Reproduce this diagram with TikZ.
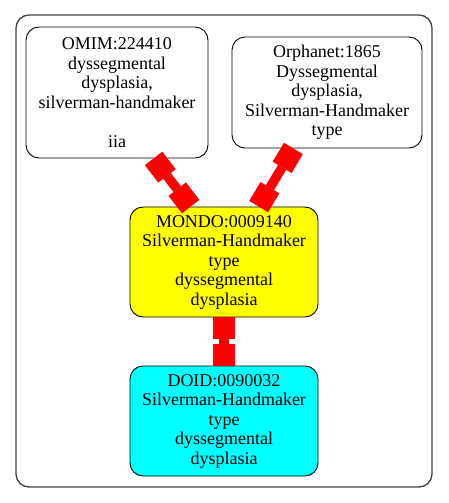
\documentclass[tikz,border=0pt]{standalone}
\usepackage{fontspec}
\setmainfont{Liberation Serif}
\usetikzlibrary{arrows.meta}
\definecolor{mondoyellow}{RGB}{255,255,0}
\definecolor{doidcyan}{RGB}{0,255,255}
\definecolor{linkred}{RGB}{255,0,0}

\begin{document}
\begin{tikzpicture}[
    x=1pt, y=-1pt,
    termnode/.style={draw, rectangle, rounded corners=13pt, line width=0.9pt, inner sep=0pt, align=center, font=\fontsize{18}{19.5}\selectfont},
    linkedge/.style={draw=linkred, line width=9.5pt, arrows={Square[length=22pt,width=22pt,line width=0pt]-Square[length=22pt,width=22pt,line width=0pt]}}
]
\useasboundingbox (0,0) rectangle (448,503);

% Cluster frame
\draw[black!75, line width=1.3pt, rounded corners=13pt] (16,15) rectangle (432,487);

% Terms
\node[termnode, minimum width=182pt, minimum height=131pt] (omim) at (117,92.5) {OMIM:224410\\dyssegmental\\dysplasia,\\silverman-handmaker\\\mbox{}\\iia};
\node[termnode, minimum width=190pt, minimum height=111pt] (orphanet) at (327,92.5) {Orphanet:1865\\Dyssegmental\\dysplasia,\\Silverman-Handmaker\\type};
\node[termnode, fill=mondoyellow, minimum width=188pt, minimum height=110pt] (mondo) at (224,262) {MONDO:0009140\\Silverman-Handmaker\\type\\dyssegmental\\dysplasia};
\node[termnode, fill=doidcyan, minimum width=188pt, minimum height=110pt] (doid) at (224,421) {DOID:0090032\\Silverman-Handmaker\\type\\dyssegmental\\dysplasia};

% Links
\draw[linkedge] (omim.-61) -- (mondo.121);
\draw[linkedge] (orphanet.-121.5) -- (mondo.58.7);
\draw[linkedge] (mondo.south) -- (doid.north);

\end{tikzpicture}
\end{document}
